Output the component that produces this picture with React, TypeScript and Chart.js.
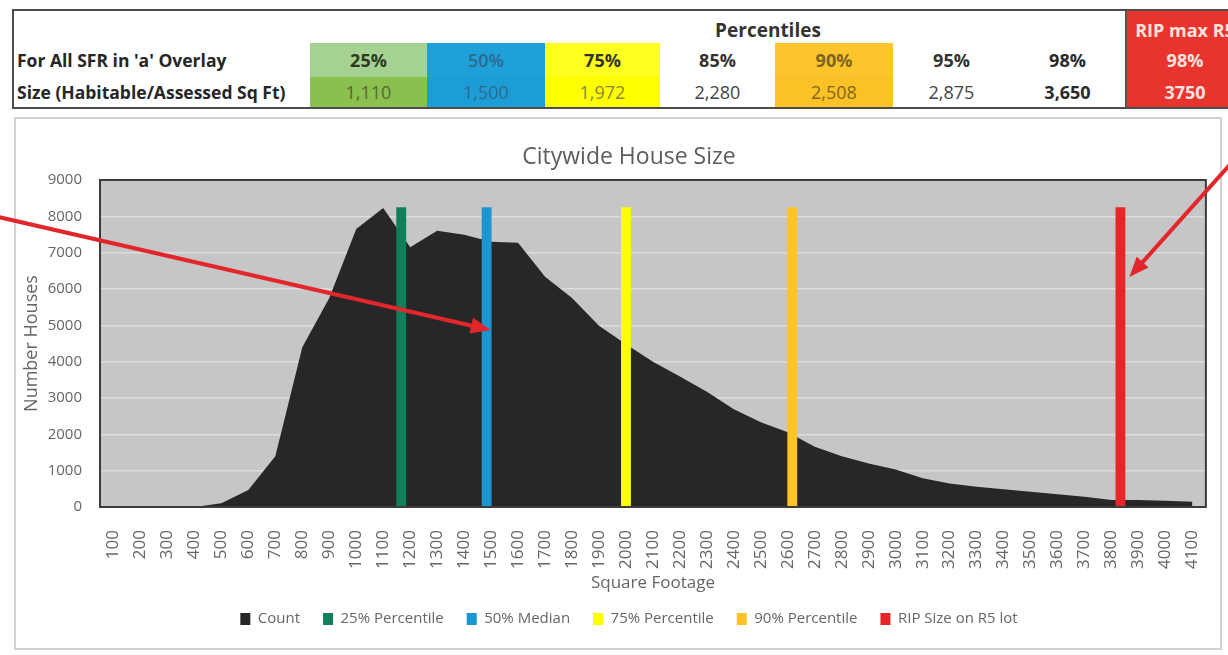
import React, { useEffect, useRef } from 'react';
import { Chart, registerables } from 'chart.js';

Chart.register(...registerables);

// ---------- data ----------
const categories = [
  '100', '200', '300', '400', '500', '600', '700', '800', '900', '1000',
  '1100', '1200', '1300', '1400', '1500', '1600', '1700', '1800', '1900', '2000',
  '2100', '2200', '2300', '2400', '2500', '2600', '2700', '2800', '2900', '3000',
  '3100', '3200', '3300', '3400', '3500', '3600', '3700', '3800', '3900', '4000', '4100',
];
const counts = [
  0, 0, 0, 0, 100, 470, 1400, 4400, 5750, 7650,
  8230, 7150, 7600, 7490, 7300, 7270, 6340, 5750, 4990, 4480,
  4000, 3590, 3170, 2690, 2330, 2060, 1660, 1400, 1200, 1035,
  790, 650, 560, 490, 420, 350, 285, 190, 190, 175, 145,
];

const markerLabels = ['25% Percentile', '50% Median', '75% Percentile', '90% Percentile', 'RIP Size on R5 lot'];
const markerCategories = ['1200', '1500', '2000', '2600', '3800'];
const markerColors = ['#127e5c', '#1a97d2', '#ffff00', '#fcc424', '#e5272b'];
const markerHeight = 8250;

const percentileHeaders = ['25%', '50%', '75%', '85%', '90%', '95%', '98%'];
const percentileValues = ['1,110', '1,500', '1,972', '2,280', '2,508', '2,875', '3,650'];
const ripCell = ['RIP max R5', '98%', '3750'];
const rowLabels = ["For All SFR in 'a' Overlay", 'Size (Habitable/Assessed Sq Ft)'];

// arrows (annotation): target series, value at tip, tip shift in bar widths, tail vector
const arrowTargets = ['50% Median', 'RIP Size on R5 lot'];
const arrowValues = [4870, 6330];
const arrowTipShift = [0.42, 0.9];
const arrowTails = [[-492, -113], [120, -134]];

// ---------- styles ----------
const FONT = "'Open Sans', sans-serif";
const TEXT = '#666666';
const PLOT_BG = '#c6c6c6';
const GRID = '#dcdcdc';
const AREA = '#272727';

Chart.defaults.font.family = FONT;

const decor = {
  id: 'decor',
  beforeDraw(chart: any) {
    const { ctx, chartArea: a } = chart;
    ctx.save();
    ctx.fillStyle = PLOT_BG;
    ctx.fillRect(a.left, a.top, a.right - a.left, a.bottom - a.top);
    ctx.restore();
  },
  afterDatasetsDraw(chart: any) {
    const { ctx, chartArea: a } = chart;
    ctx.save();
    ctx.strokeStyle = '#3c3c3c';
    ctx.lineWidth = 2;
    ctx.strokeRect(a.left, a.top, a.right - a.left, a.bottom - a.top);
    ctx.restore();
  },
  afterDraw(chart: any) {
    const { ctx } = chart;
    const y = chart.scales.y;
    ctx.save();
    arrowTargets.forEach((label, i) => {
      const dsIndex = chart.data.datasets.findIndex((d: any) => d.label === label);
      const meta = chart.getDatasetMeta(dsIndex);
      const catIndex = categories.indexOf(markerCategories[markerLabels.indexOf(label)]);
      const el: any = meta.data[catIndex];
      if (!el) return;
      const tx = el.x + el.width * arrowTipShift[i];
      const ty = y.getPixelForValue(arrowValues[i]);
      const [dx, dy] = arrowTails[i];
      const len = Math.hypot(dx, dy);
      const ux = dx / len, uy = dy / len;
      const nx = -uy, ny = ux;
      const headL = 20, headW = 8;
      ctx.strokeStyle = '#e3262c';
      ctx.fillStyle = '#e3262c';
      ctx.lineWidth = 4;
      ctx.lineCap = 'butt';
      ctx.beginPath();
      ctx.moveTo(tx + dx, ty + dy);
      ctx.lineTo(tx + ux * headL * 0.8, ty + uy * headL * 0.8);
      ctx.stroke();
      ctx.beginPath();
      ctx.moveTo(tx, ty);
      ctx.lineTo(tx + ux * headL + nx * headW, ty + uy * headL + ny * headW);
      ctx.lineTo(tx + ux * headL - nx * headW, ty + uy * headL - ny * headW);
      ctx.closePath();
      ctx.fill();
    });
    ctx.restore();
  },
};

function buildConfig(): any {
  const datasets: any[] = [
    {
      type: 'line',
      label: 'Count',
      data: counts,
      backgroundColor: AREA,
      borderColor: AREA,
      borderWidth: 0,
      pointRadius: 0,
      fill: 'origin',
      tension: 0,
      order: 1,
    },
  ];
  markerLabels.forEach((label, i) => {
    datasets.push({
      type: 'bar',
      label,
      data: categories.map((c) => (c === markerCategories[i] ? markerHeight : null)),
      backgroundColor: markerColors[i],
      borderWidth: 0,
      categoryPercentage: 0.83,
      barPercentage: 2.2,
      order: 0,
    });
  });
  return {
    type: 'bar',
    data: { labels: categories, datasets },
    plugins: [decor],
    options: {
      responsive: false,
      animation: false,
      events: [],
      layout: { padding: { left: 46, right: 16, top: 10, bottom: 18.5 } },
      plugins: {
        title: {
          display: true,
          text: 'Citywide House Size',
          color: '#5c5c5c',
          font: { family: FONT, size: 23, weight: 'normal' },
          padding: { top: 18.2, bottom: 9.2 },
        },
        legend: {
          position: 'bottom',
          labels: {
            boxWidth: 10,
            boxHeight: 12,
            padding: 23,
            color: TEXT,
            font: { family: FONT, size: 15 },
            sort: (a: any, b: any) => a.datasetIndex - b.datasetIndex,
          },
        },
        tooltip: { enabled: false },
      },
      scales: {
        x: {
          type: 'category',
          offset: true,
          grid: { display: false },
          border: { display: false },
          ticks: {
            autoSkip: false,
            minRotation: 90,
            maxRotation: 90,
            padding: 15,
            color: TEXT,
            font: { family: FONT, size: 17 },
          },
          title: {
            display: true,
            text: 'Square Footage',
            color: TEXT,
            font: { family: FONT, size: 17 },
            padding: { top: 0, bottom: -4.7 },
          },
          afterFit: (s: any) => {
            s.height = 81.5;
          },
        },
        y: {
          min: 0,
          max: 9000,
          ticks: {
            stepSize: 1000,
            padding: 18,
            color: TEXT,
            font: { family: FONT, size: 15 },
            callback: (v: any) => String(v),
          },
          grid: { color: GRID, lineWidth: 1.5, drawTicks: false },
          border: { display: false },
          title: {
            display: true,
            text: 'Number Houses',
            color: TEXT,
            font: { family: FONT, size: 18 },
            padding: { top: -25.2, bottom: 0 },
          },
          afterFit: (s: any) => {
            s.width = 54;
          },
        },
      },
    },
  };
}

// table layout
const colEdges = [310, 427, 545, 660, 775, 893, 1010, 1125];
const cellStyles = [
  { topBg: '#a5d192', botBg: '#8bbf4e', topColor: '#2f3a22', botColor: '#56683a', topW: 700, botW: 400 },
  { topBg: '#1fa0d9', botBg: '#1d9dd6', topColor: '#2d6a90', botColor: '#2d6a90', topW: 600, botW: 400 },
  { topBg: '#ffff20', botBg: '#ffff00', topColor: '#333', botColor: '#8a8a45', topW: 700, botW: 400 },
  { topBg: 'transparent', botBg: 'transparent', topColor: '#333', botColor: '#444', topW: 700, botW: 400 },
  { topBg: '#fcc52b', botBg: '#fbc228', topColor: '#7d6424', botColor: '#84651c', topW: 700, botW: 400 },
  { topBg: 'transparent', botBg: 'transparent', topColor: '#333', botColor: '#444', topW: 700, botW: 400 },
  { topBg: 'transparent', botBg: 'transparent', topColor: '#2a2a2a', botColor: '#2a2a2a', topW: 700, botW: 700 },
];

const abs = (l: number, t: number, w: number, h: number): React.CSSProperties => ({
  position: 'absolute',
  left: l,
  top: t,
  width: w,
  height: h,
});

export default function App() {
  const ref = useRef<HTMLCanvasElement>(null);
  useEffect(() => {
    const chart = new Chart(ref.current as HTMLCanvasElement, buildConfig());
    return () => chart.destroy();
  }, []);

  const rowB = { top: 43, h: 34 };
  const rowC = { top: 77, h: 30 };

  return (
    <div
      style={{
        position: 'fixed',
        left: 0,
        top: 0,
        width: 1228,
        height: 655,
        overflow: 'hidden',
        background: '#fff',
        fontFamily: FONT,
      }}
    >
      {/* table */}
      <div style={{ ...abs(12, 9, 1250, 100), border: '2px solid #4d4d4d', boxSizing: 'border-box' }} />
      {percentileHeaders.map((h, i) => {
        const l = colEdges[i];
        const w = colEdges[i + 1] - l;
        const st = cellStyles[i];
        return (
          <React.Fragment key={h}>
            <div
              style={{
                ...abs(l, rowB.top, w, rowB.h),
                background: st.topBg,
                color: st.topColor,
                fontWeight: st.topW,
                fontSize: 18,
                lineHeight: `${rowB.h}px`,
                textAlign: 'center',
              }}
            >
              {h}
            </div>
            <div
              style={{
                ...abs(l, rowC.top, w, rowC.h),
                background: st.botBg,
                color: st.botColor,
                fontWeight: st.botW,
                fontSize: 18,
                lineHeight: `${rowC.h}px`,
                textAlign: 'center',
              }}
            >
              {percentileValues[i]}
            </div>
          </React.Fragment>
        );
      })}
      <div
        style={{
          ...abs(668, 13, 200, 34),
          fontWeight: 700,
          fontSize: 19,
          lineHeight: '34px',
          textAlign: 'center',
          color: '#333',
        }}
      >
        Percentiles
      </div>
      <div style={{ ...abs(1125, 11, 120, 96), background: '#e8342f', borderLeft: '2px solid #555' }} />
      {ripCell.map((t, i) => {
        const tops = [13, rowB.top, rowC.top];
        const hs = [34, rowB.h, rowC.h];
        return (
          <div
            key={t}
            style={{
              ...abs(1125, tops[i], 120, hs[i]),
              color: '#fde3df',
              fontWeight: 700,
              fontSize: 18,
              lineHeight: `${hs[i]}px`,
              textAlign: 'center',
              whiteSpace: 'nowrap',
            }}
          >
            {t}
          </div>
        );
      })}
      {rowLabels.map((t, i) => (
        <div
          key={t}
          style={{
            ...abs(17, i === 0 ? rowB.top : rowC.top, 290, i === 0 ? rowB.h : rowC.h),
            fontWeight: 700,
            fontSize: 17.5,
            lineHeight: `${i === 0 ? rowB.h : rowC.h}px`,
            color: '#262626',
            whiteSpace: 'nowrap',
          }}
        >
          {t}
        </div>
      ))}
      {/* chart box */}
      <div style={{ ...abs(14, 117, 1208, 533), border: '2px solid #cfd3d8', boxSizing: 'border-box' }} />
      <canvas
        ref={ref}
        width={1228}
        height={540}
        style={{ position: 'absolute', left: 0, top: 115, width: 1228, height: 540 }}
      />
    </div>
  );
}
